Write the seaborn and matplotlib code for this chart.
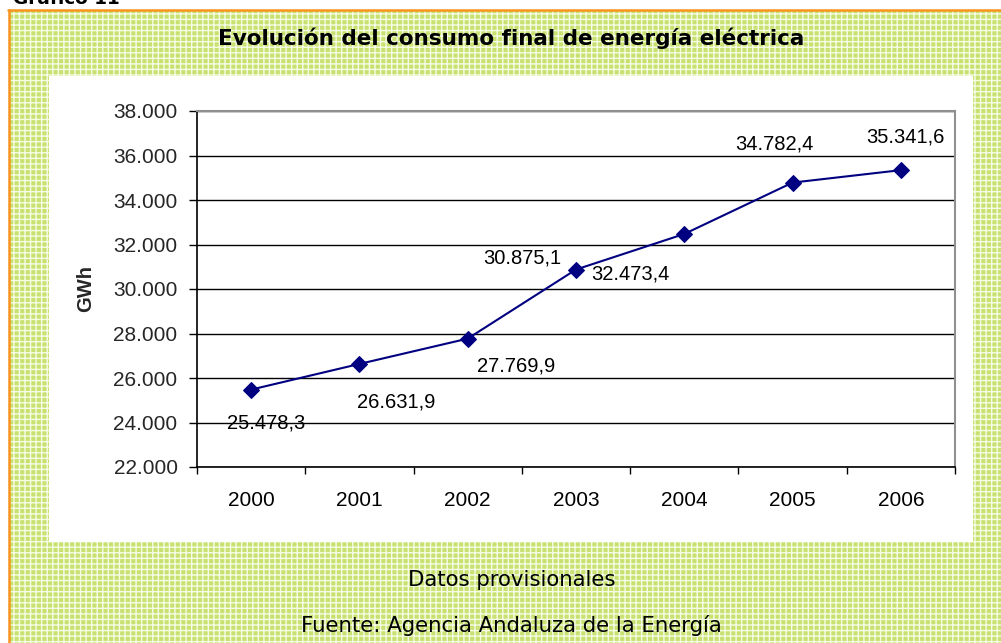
import numpy as np
import pandas as pd
import matplotlib
matplotlib.use("Agg")
import matplotlib.pyplot as plt
import seaborn as sns
from matplotlib.patches import Rectangle
from matplotlib.lines import Line2D

years = ["2000", "2001", "2002", "2003", "2004", "2005", "2006"]
consumo = [25478.3, 26631.9, 27769.9, 30875.1, 32473.4, 34782.4, 35341.6]
y_ticks = [22000, 24000, 26000, 28000, 30000, 32000, 34000, 36000, 38000]

title = "Evolución del consumo final de energía eléctrica"
ylabel = "GWh"
note1 = "Datos provisionales"
note2 = "Fuente: Agencia Andaluza de la Energía"
header = "Gráfico 11"

# label offsets in pixels (style)
label_offsets = [(15, -33), (37, -38), (48, -27), (-54, 12), (-54, -40), (-18, 39), (5, 33)]

def es_fmt(v, dec):
    s = f"{v:,.{dec}f}"
    return s.replace(",", "X").replace(".", ",").replace("X", ".")

sns.set_theme(style="white")
plt.rcParams["font.family"] = ["Liberation Sans", "DejaVu Sans"]

W, H = 1001, 643
fig = plt.figure(figsize=(W / 100, H / 100), dpi=100)
fig.patch.set_facecolor("white")

def fx(px):
    return px / W

def fy(py):
    return 1 - py / H

# green patterned background
plt.rcParams["hatch.linewidth"] = 1.0
bg = Rectangle((fx(9), 0), 1 - fx(9), fy(11), transform=fig.transFigure,
               facecolor="#c8e170", edgecolor="#f6fbe6", hatch="+++", lw=0, zorder=0)
fig.patches.append(bg)
fig.lines.append(Line2D([fx(8.5), fx(8.5)], [0, fy(10)], transform=fig.transFigure,
                        color="#f7941d", lw=1.8, zorder=1))
fig.lines.append(Line2D([fx(8), 1], [fy(10), fy(10)], transform=fig.transFigure,
                        color="#f7941d", lw=1.8, zorder=1))
# white inner area
inner = Rectangle((fx(49), fy(542)), fx(973) - fx(49), fy(76) - fy(542),
                  transform=fig.transFigure, facecolor="white", edgecolor="none", zorder=1)
fig.patches.append(inner)

ax = fig.add_axes([fx(197), fy(467), fx(955) - fx(197), fy(111) - fy(467)])
ax.set_facecolor("white")
ax.set_zorder(2)

df = pd.DataFrame({"pos": np.arange(len(years)), "GWh": consumo})
sns.lineplot(data=df, x="pos", y="GWh", ax=ax, color="#000080", lw=1.5,
             marker="D", markersize=8, markeredgecolor="#000080")

ax.set_xlim(-0.5, len(years) - 0.5)
ax.set_ylim(y_ticks[0], y_ticks[-1])
ax.set_yticks(y_ticks)
ax.set_yticklabels([es_fmt(v, 0) for v in y_ticks], fontsize=15)
ax.set_xticks(np.arange(len(years)))
ax.set_xticklabels(years, fontsize=15)
ax.set_xticks(np.arange(-0.5, len(years)), minor=True)
ax.tick_params(axis="x", which="major", length=0, pad=17, colors="black")
ax.tick_params(axis="x", which="minor", length=5, width=1, direction="out", color="black", bottom=True)
ax.tick_params(axis="y", which="major", length=6, width=1, direction="out", pad=8, color="black", left=True)
ax.grid(axis="y", color="black", lw=1)
ax.grid(axis="x", visible=False)
ax.set_axisbelow(True)
for side in ["left", "bottom"]:
    ax.spines[side].set_color("black")
    ax.spines[side].set_linewidth(1.2)
for side in ["top", "right"]:
    ax.spines[side].set_color("#909090")
    ax.spines[side].set_linewidth(1.5)
ax.set_xlabel("")
ax.set_ylabel(ylabel, fontsize=14.5, fontweight="bold", labelpad=13)

for i, v in enumerate(consumo):
    dx, dy = label_offsets[i]
    ax.annotate(es_fmt(v, 1), (i, v), xytext=(dx, dy), textcoords="offset pixels",
                ha="center", va="center", fontsize=14.5, color="black", zorder=5)

fig.text(0.511, fy(38), title, ha="center", va="center", fontsize=15.5,
         fontweight="bold", family=["DejaVu Sans"], color="black", zorder=3)
fig.text(fx(13), fy(4.5), header, ha="left", va="baseline", fontsize=13.3,
         fontweight="bold", family=["DejaVu Sans"], color="black", zorder=3)
fig.text(0.511, fy(580), note1, ha="center", va="center", fontsize=15.3,
         family=["DejaVu Sans"], color="black", zorder=3)
fig.text(0.511, fy(625), note2, ha="center", va="center", fontsize=15.3,
         family=["DejaVu Sans"], color="black", zorder=3)

fig.savefig("out.png", dpi=100)
